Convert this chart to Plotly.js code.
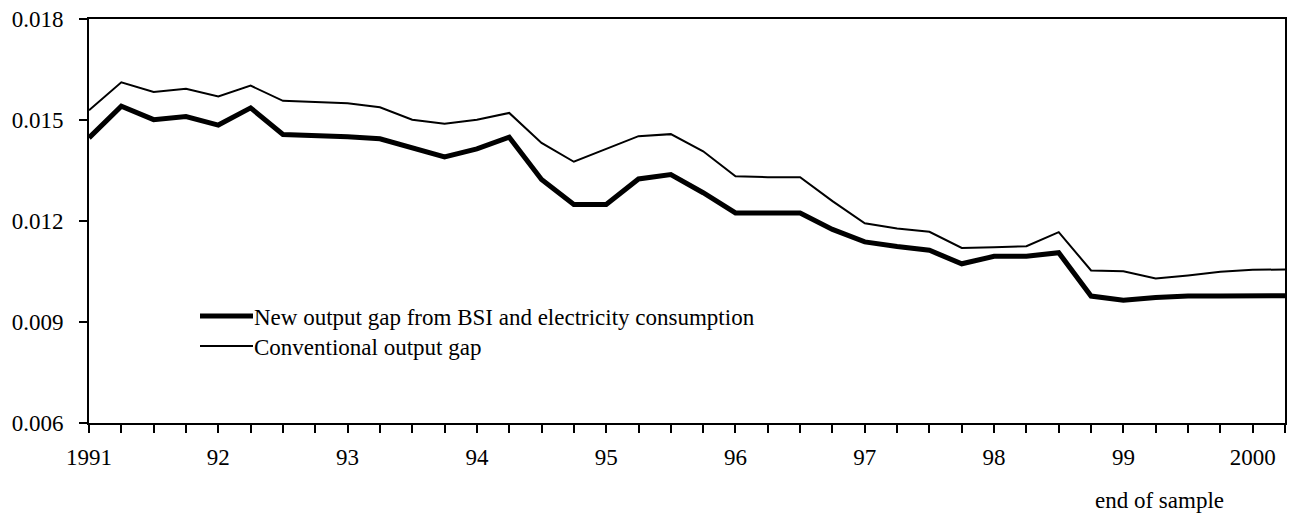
<!DOCTYPE html>
<html>
<head>
<meta charset="utf-8">
<script src="https://cdn.plot.ly/plotly-3.0.1.min.js"></script>
<style>
  html, body { margin: 0; padding: 0; background: #fff; }
  #chart { width: 1292px; height: 515px; }
</style>
</head>
<body>
<div id="chart"></div>
<script>
// Quarterly observations, 1991Q1 .. 2000Q2 (decimal years)
var quarters = [
  1991.00, 1991.25, 1991.50, 1991.75,
  1992.00, 1992.25, 1992.50, 1992.75,
  1993.00, 1993.25, 1993.50, 1993.75,
  1994.00, 1994.25, 1994.50, 1994.75,
  1995.00, 1995.25, 1995.50, 1995.75,
  1996.00, 1996.25, 1996.50, 1996.75,
  1997.00, 1997.25, 1997.50, 1997.75,
  1998.00, 1998.25, 1998.50, 1998.75,
  1999.00, 1999.25, 1999.50, 1999.75,
  2000.00, 2000.25
];

var newGap = [
  0.01447, 0.01541, 0.01501, 0.01510,
  0.01485, 0.01536, 0.01457, 0.01455,
  0.01450, 0.01444, 0.01417, 0.01390,
  0.01414, 0.01449, 0.01323, 0.01249,
  0.01249, 0.01325, 0.01338, 0.01284,
  0.01224, 0.01225, 0.01224, 0.01175,
  0.01138, 0.01124, 0.01113, 0.01073,
  0.01095, 0.01095, 0.01106, 0.00977,
  0.00965, 0.00973, 0.00977, 0.00977,
  0.00978, 0.00978
];

var conventionalGap = [
  0.01529, 0.01612, 0.01583, 0.01593,
  0.01570, 0.01602, 0.01557, 0.01553,
  0.01550, 0.01538, 0.01501, 0.01489,
  0.01501, 0.01521, 0.01432, 0.01376,
  0.01414, 0.01452, 0.01458, 0.01407,
  0.01333, 0.01330, 0.01330, 0.01259,
  0.01193, 0.01178, 0.01168, 0.01120,
  0.01122, 0.01125, 0.01167, 0.01053,
  0.01051, 0.01029, 0.01038, 0.01049,
  0.01055, 0.01056
];

var yearTicks = [1991, 1992, 1993, 1994, 1995, 1996, 1997, 1998, 1999, 2000];
var yearLabels = ['1991', '92', '93', '94', '95', '96', '97', '98', '99', '2000'];
var yTicks = [0.006, 0.009, 0.012, 0.015, 0.018];

var seriesNames = ['New output gap from BSI and electricity consumption', 'Conventional output gap'];

var FONT = 'Liberation Serif';
var FS = 23;

var traces = [
  {
    x: quarters, y: newGap, type: 'scatter', mode: 'lines',
    name: seriesNames[0],
    line: { color: '#000', width: 5 },
    showlegend: false
  },
  {
    x: quarters, y: conventionalGap, type: 'scatter', mode: 'lines',
    name: seriesNames[1],
    line: { color: '#000', width: 2 },
    showlegend: false
  }
];

var layout = {
  width: 1292, height: 515,
  margin: { l: 89, r: 7, t: 19, b: 92 },
  paper_bgcolor: '#fff', plot_bgcolor: '#fff',
  font: { family: FONT, size: FS, color: '#000' },
  showlegend: false,
  xaxis: {
    range: [1991, 2000.25],
    tickvals: yearTicks, ticktext: yearLabels,
    ticks: 'outside', ticklen: 8, tickwidth: 2, tickcolor: '#000',
    minor: { dtick: 0.25, tick0: 1991, ticks: 'outside', ticklen: 8, tickwidth: 2, tickcolor: '#000', showgrid: false },
    showline: true, linecolor: '#000', linewidth: 2, mirror: true,
    showgrid: false, zeroline: false,
    tickfont: { family: FONT, size: FS, color: '#000' },
    ticklabelstandoff: 4
  },
  yaxis: {
    range: [0.006, 0.018],
    tickvals: yTicks, tickformat: '.3f',
    ticks: 'outside', ticklen: 8, tickwidth: 2, tickcolor: '#000',
    showline: true, linecolor: '#000', linewidth: 2, mirror: true,
    showgrid: false, zeroline: false,
    tickfont: { family: FONT, size: FS, color: '#000' },
    ticklabelstandoff: 11
  },
  shapes: [
    { type: 'line', xref: 'paper', yref: 'paper', x0: 200, x1: 253, y0: 0, y1: 0,
      line: { color: '#000', width: 5 } },
    { type: 'line', xref: 'paper', yref: 'paper', x0: 200, x1: 253, y0: 0, y1: 0,
      line: { color: '#000', width: 2 } }
  ],
  annotations: [
    { xref: 'paper', yref: 'paper', x: 0, y: 0, text: seriesNames[0], showarrow: false,
      xanchor: 'left', yanchor: 'middle', font: { family: FONT, size: FS, color: '#000' } },
    { xref: 'paper', yref: 'paper', x: 0, y: 0, text: seriesNames[1], showarrow: false,
      xanchor: 'left', yanchor: 'middle', font: { family: FONT, size: FS, color: '#000' } },
    { xref: 'paper', yref: 'paper', x: 0, y: 0, text: 'end of sample', showarrow: false,
      xanchor: 'center', yanchor: 'middle', font: { family: FONT, size: FS, color: '#000' } }
  ]
};

// Convert pixel placements (relative to page) into paper coordinates of the plot area
(function () {
  var m = layout.margin;
  var pw = layout.width - m.l - m.r, ph = layout.height - m.t - m.b;
  function px(x) { return (x - m.l) / pw; }
  function py(y) { return 1 - (y - m.t) / ph; }
  var legY = [316, 346];
  layout.shapes[0].x0 = px(200); layout.shapes[0].x1 = px(253);
  layout.shapes[0].y0 = layout.shapes[0].y1 = py(legY[0]);
  layout.shapes[1].x0 = px(200); layout.shapes[1].x1 = px(253);
  layout.shapes[1].y0 = layout.shapes[1].y1 = py(legY[1]);
  layout.annotations[0].x = px(252); layout.annotations[0].y = py(legY[0] + 1);
  layout.annotations[1].x = px(252); layout.annotations[1].y = py(legY[1] + 1);
  layout.annotations[2].x = px(1159); layout.annotations[2].y = py(500);
})();

Plotly.newPlot('chart', traces, layout, { displayModeBar: false, staticPlot: true });
</script>
</body>
</html>
